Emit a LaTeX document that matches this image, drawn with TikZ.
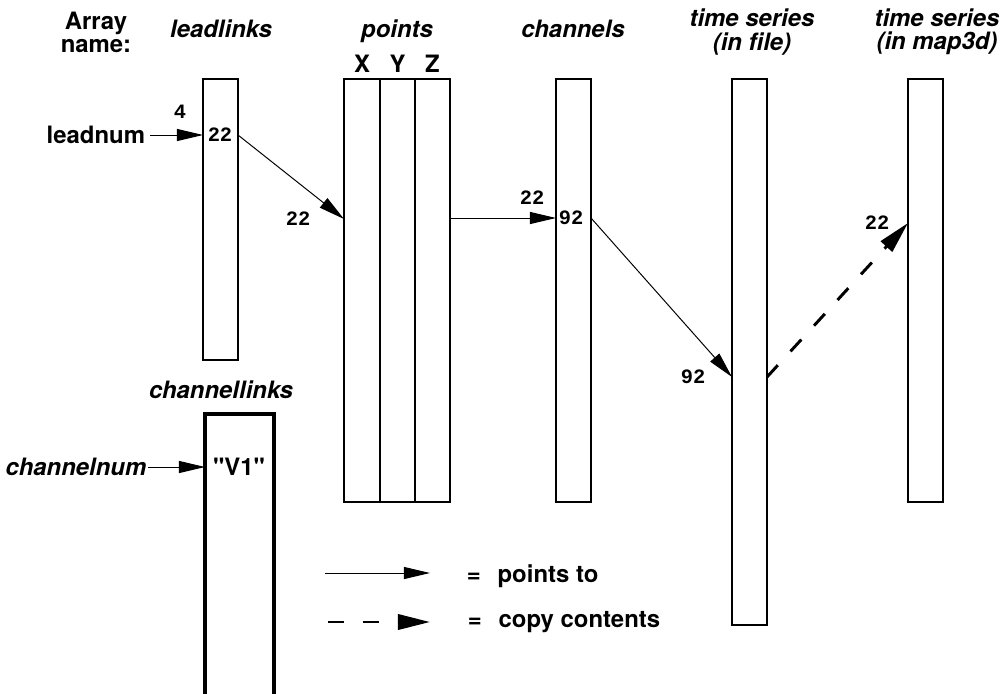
\documentclass[tikz,border=0pt]{standalone}
\usepackage{fontspec}
\setmainfont{TeX Gyre Heros}[Ligatures=TeXOff]
\setmonofont{Liberation Mono}
\usetikzlibrary{arrows.meta, positioning}

\begin{document}
\begin{tikzpicture}[x=0.025cm, y=-0.025cm,
    arr/.style={draw, line width=1pt, inner sep=0pt, outer sep=0pt, anchor=north west, minimum width=0.875cm},
    hdr/.style={font=\fontsize{17}{16.5}\selectfont\bfseries\itshape, align=center},
    lbl/.style={font=\fontsize{17}{16.5}\selectfont\bfseries, align=center},
    num/.style={font=\fontsize{14.5}{14}\selectfont\ttfamily\bfseries, inner sep=1pt},
    ptr/.style={line width=0.7pt, -{Triangle[length=0.65cm, width=0.3cm]}},
    cpy/.style={line width=2.1pt, dash pattern=on 0.4cm off 0.47cm, -{Triangle[length=0.8cm, width=0.38cm]}}]
  \useasboundingbox (0,0) rectangle (1000,693);

  \node[lbl]              (aname) at (96,32)  {Array\\name:};
  \node[hdr, anchor=base] (hlead) at (221,37) {leadlinks};
  \node[hdr, anchor=base] (hpts)  at (397,37) {points};
  \node[hdr, anchor=base] (hchan) at (573,37) {channels};
  \node[hdr]              (hfile) at (752,32) {time series\\(in file)};
  \node[hdr]              (hmap)  at (937,32) {time series\\(in map3d)};

  \node[arr, minimum height=7.025cm] (leadlinks) at (203,79) {};
  \node[arr, minimum width=0.9cm, minimum height=10.575cm] (ptx) at (344,79) {};
  \node[arr, minimum height=10.575cm, right=0pt of ptx] (pty) {};
  \node[arr, minimum height=10.575cm, right=0pt of pty] (ptz) {};
  \node[arr, minimum height=10.575cm] (channels) at (556,79) {};
  \node[arr, minimum height=13.65cm]  (tsfile)   at (732,79) {};
  \node[arr, minimum height=10.575cm] (tsmap)    at (908,79) {};
  \node[arr, line width=2.5pt, minimum width=1.72cm, minimum height=7.7cm] (chanlinks) at (205,414) {};
  \node[hdr, anchor=base] (hchl) at (221,398) {channellinks};

  \node[lbl, above=1pt of ptx] (lx) {X};
  \node[lbl, above=1pt of pty] (ly) {Y};
  \node[lbl, above=1pt of ptz] (lz) {Z};

  \node[num] (four) at (180,112) {4};
  \node[num] (l22)  at (220,135) {22};
  \node[num] (p22)  at (298,219) {22};
  \node[num] (c22)  at (532,198) {22};
  \node[num] (c92)  at (571,218) {92};
  \node[num] (f92)  at (693,377) {92};
  \node[num] (m22)  at (877,223) {22};

  \node[lbl, anchor=east] (leadnum) at (150,135) {leadnum};
  \node[hdr, anchor=east, inner sep=1pt] (channelnum) at (148,467) {channelnum};
  \node[lbl] (v1) at (239,467) {"V1"};

  \draw[ptr] (leadnum) -- (leadlinks.west |- leadnum);
  \draw[ptr] (leadlinks.east |- l22) -- (ptx.west |- p22);
  \draw[ptr] (ptz.east |- c92) -- (channels.west |- c92);
  \draw[ptr] (channels.east |- c92) -- (tsfile.west |- f92);
  \draw[cpy] (tsfile.east |- f92) -- (tsmap.west |- m22);
  \draw[ptr] (channelnum) -- (chanlinks.west |- channelnum);

  % legend
  \coordinate (sa) at (325,573);
  \coordinate (sb) at (430,573);
  \coordinate (da) at (328,622);
  \coordinate (db) at (430,622);
  \draw[ptr] (sa) -- (sb);
  \draw[cpy] (da) -- (db);
  \node[lbl, anchor=base west] (lsolid) at (462,582) {=\hspace{0.7em}points to};
  \node[lbl, anchor=base west] (ldash)  at (463,627) {=\hspace{0.7em}copy contents};
\end{tikzpicture}
\end{document}
